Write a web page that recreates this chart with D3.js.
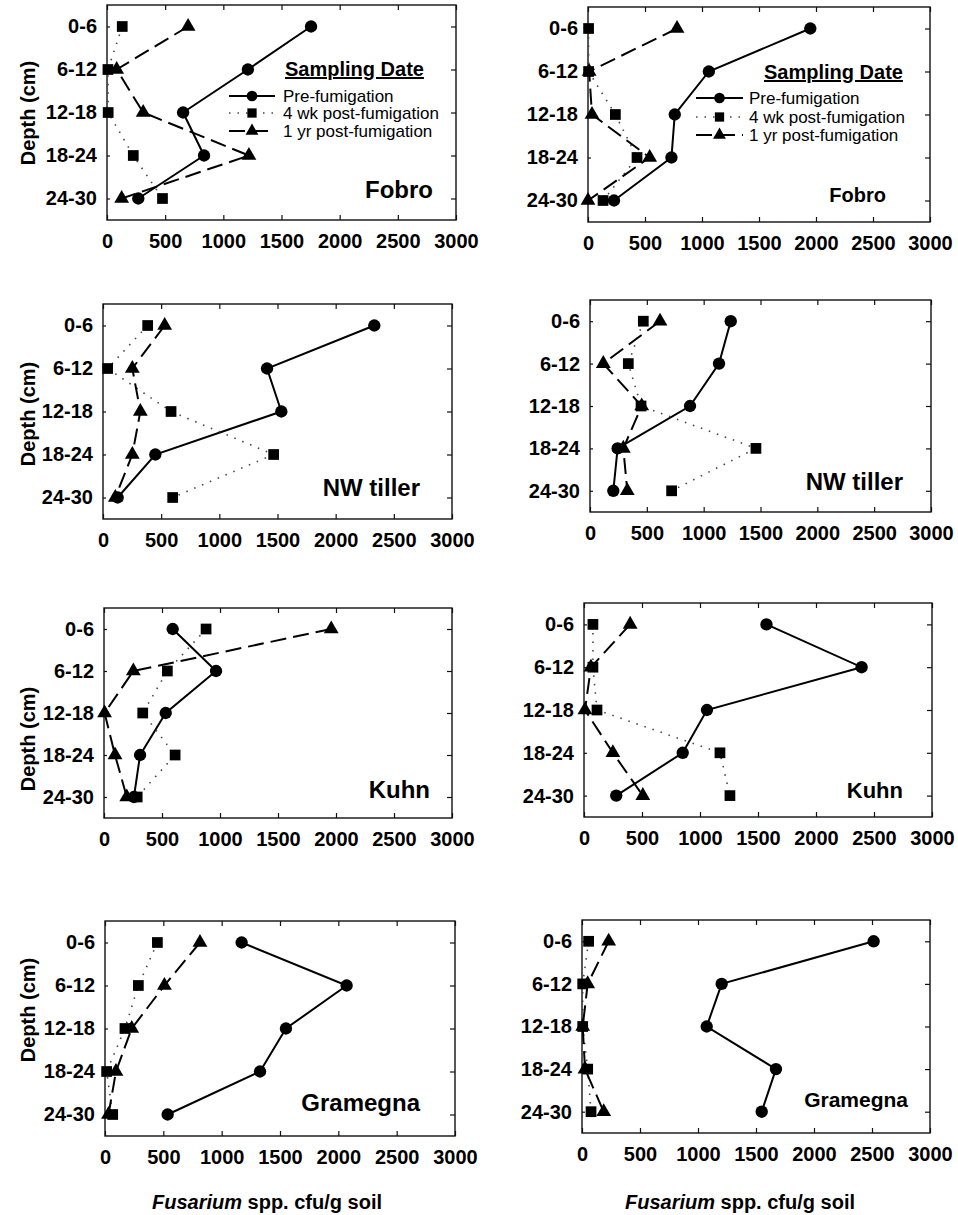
<!DOCTYPE html>
<html>
<head>
<meta charset="utf-8">
<style>
  body { margin: 0; background: #fff; }
  svg { display: block; font-family: "Liberation Sans", Arial, sans-serif; }
  .tick text { font-weight: bold; font-size: 20px; fill: #000; }
  .tick line { stroke: #111; stroke-width: 1.2; }
</style>
</head>
<body>
<div id="chart"></div>
<script src="https://d3js.org/d3.v7.min.js"></script>
<script>
// categories and ticks
const depths = ["0-6", "6-12", "12-18", "18-24", "24-30"];
const xTicks = [0, 500, 1000, 1500, 2000, 2500, 3000];
const seriesNames = ["Pre-fumigation", "4 wk post-fumigation", "1 yr post-fumigation"];
const siteNames = ["Fobro", "Fobro", "NW tiller", "NW tiller", "Kuhn", "Kuhn", "Gramegna", "Gramegna"];

// Fusarium spp. cfu/g soil, one value per depth
const fobroA_pre = [1754, 1211, 654, 834, 269];
const fobroA_4wk = [131, 8, 10, 226, 477];
const fobroA_1yr = [697, 83, 311, 1220, 126];

const fobroB_pre = [1950, 1060, 761, 732, 228];
const fobroB_4wk = [5, 5, 240, 430, 132];
const fobroB_1yr = [781, 10, 35, 541, 0];

const tillerA_pre = [2332, 1410, 1533, 450, 126];
const tillerA_4wk = [384, 40, 585, 1467, 599];
const tillerA_1yr = [530, 252, 321, 252, 106];

const tillerB_pre = [1238, 1135, 880, 243, 205];
const tillerB_4wk = [469, 337, 449, 1460, 718];
const tillerB_1yr = [616, 117, 455, 293, 328];

const kuhnA_pre = [592, 966, 532, 311, 258];
const kuhnA_4wk = [880, 546, 334, 613, 286];
const kuhnA_1yr = [1959, 253, 5, 95, 196];

const kuhnB_pre = [1573, 2393, 1060, 851, 278];
const kuhnB_4wk = [77, 77, 112, 1172, 1258];
const kuhnB_1yr = [398, 60, 8, 249, 507];

const gramA_pre = [1171, 2071, 1551, 1329, 537];
const gramA_4wk = [449, 286, 171, 14, 66];
const gramA_1yr = [814, 509, 229, 94, 30];

const gramB_pre = [2514, 1204, 1075, 1672, 1549];
const gramB_4wk = [57, 6, 6, 49, 78];
const gramB_1yr = [230, 49, 6, 26, 187];

const panelData = [
  [fobroA_pre, fobroA_4wk, fobroA_1yr],
  [fobroB_pre, fobroB_4wk, fobroB_1yr],
  [tillerA_pre, tillerA_4wk, tillerA_1yr],
  [tillerB_pre, tillerB_4wk, tillerB_1yr],
  [kuhnA_pre, kuhnA_4wk, kuhnA_1yr],
  [kuhnB_pre, kuhnB_4wk, kuhnB_1yr],
  [gramA_pre, gramA_4wk, gramA_1yr],
  [gramB_pre, gramB_4wk, gramB_1yr]
];

// plot boxes, in page pixels
const layout = [
  {l: 107, r: 456, t: 5,   b: 220, nameX: 433, nameY: 198, nameSize: 24, depthY: 113},
  {l: 588, r: 930, t: 7,   b: 222, nameX: 886, nameY: 202, nameSize: 20},
  {l: 103, r: 452, t: 304, b: 519, nameX: 420, nameY: 496, nameSize: 24, depthY: 414},
  {l: 590, r: 931, t: 300, b: 512, nameX: 903, nameY: 490, nameSize: 24},
  {l: 104, r: 452, t: 608, b: 818, nameX: 430, nameY: 798, nameSize: 24, depthY: 739},
  {l: 584, r: 932, t: 603, b: 817, nameX: 903, nameY: 798, nameSize: 22},
  {l: 105, r: 455, t: 921, b: 1136, nameX: 420, nameY: 1111, nameSize: 24, depthY: 1010},
  {l: 582, r: 930, t: 920, b: 1133, nameX: 908, nameY: 1107, nameSize: 21}
];

const styles = [
  {symbol: d3.symbolCircle,   size: 120, dash: null,    width: 2,   color: "#000"},
  {symbol: d3.symbolSquare,   size: 115, dash: "1.5,7", width: 1.6, color: "#444"},
  {symbol: d3.symbolTriangle, size: 95,  dash: "16,7",  width: 2,   color: "#000"}
];

const svg = d3.select("#chart").append("svg")
  .attr("width", 958)
  .attr("height", 1215);

function drawPanel(vals, box, i) {
  const x = d3.scaleLinear().domain([0, 3000]).range([box.l, box.r]);
  const y = d3.scalePoint().domain(depths).range([box.t, box.b]).padding(0.5);
  const g = svg.append("g");

  g.append("rect")
    .attr("x", box.l).attr("y", box.t)
    .attr("width", box.r - box.l).attr("height", box.b - box.t)
    .attr("fill", "none").attr("stroke", "#111").attr("stroke-width", 1.4);

  g.append("g").attr("transform", `translate(0,${box.b})`)
    .call(d3.axisBottom(x).tickValues(xTicks).tickFormat(d3.format("d")).tickSize(-5).tickPadding(14))
    .call(a => a.select(".domain").remove());
  g.append("g").attr("transform", `translate(0,${box.t})`)
    .call(d3.axisTop(x).tickValues(xTicks).tickSize(-5).tickFormat(""))
    .call(a => a.select(".domain").remove());
  g.append("g").attr("transform", `translate(${box.l},0)`)
    .call(d3.axisLeft(y).tickSize(-3).tickPadding(10))
    .call(a => a.select(".domain").remove());
  g.append("g").attr("transform", `translate(${box.r},0)`)
    .call(d3.axisRight(y).tickSize(-5).tickFormat(""))
    .call(a => a.select(".domain").remove());

  const line = d3.line().x(d => x(d.v)).y(d => y(d.depth));

  vals.forEach((s, k) => {
    const pts = s.map((v, j) => ({v: v, depth: depths[j]}));
    const st = styles[k];
    g.append("path")
      .datum(pts)
      .attr("d", line)
      .attr("fill", "none")
      .attr("stroke", st.color)
      .attr("stroke-width", st.width)
      .attr("stroke-dasharray", st.dash);
    g.selectAll(null)
      .data(pts)
      .enter().append("path")
        .attr("transform", d => `translate(${x(d.v)},${y(d.depth)})`)
        .attr("d", d3.symbol().type(st.symbol).size(st.size))
        .attr("fill", "#000");
  });

  g.append("text")
    .attr("x", box.nameX).attr("y", box.nameY)
    .attr("text-anchor", "end")
    .attr("font-weight", "bold")
    .attr("font-size", box.nameSize)
    .text(siteNames[i]);

  if (i % 2 === 0) {
    g.append("text")
      .attr("transform", `translate(35,${box.depthY}) rotate(-90)`)
      .attr("text-anchor", "middle")
      .attr("font-weight", "bold")
      .attr("font-size", 20)
      .text("Depth (cm)");
  }
}

panelData.forEach((vals, i) => drawPanel(vals, layout[i], i));

// legends on the two Fobro panels
const legendPos = [
  {titleX: 285, titleY: 76, lineX0: 229, lineX1: 275, textX: 283, rowY: [96, 113, 131]},
  {titleX: 764, titleY: 79, lineX0: 696, lineX1: 743, textX: 749, rowY: [98, 117, 135]}
];

legendPos.forEach(lp => {
  const lg = svg.append("g");
  lg.append("text")
    .attr("x", lp.titleX).attr("y", lp.titleY)
    .attr("font-weight", "bold")
    .attr("font-size", 20)
    .attr("text-decoration", "underline")
    .text("Sampling Date");
  seriesNames.forEach((name, k) => {
    const st = styles[k];
    const yy = lp.rowY[k];
    lg.append("line")
      .attr("x1", lp.lineX0).attr("x2", lp.lineX1)
      .attr("y1", yy).attr("y2", yy)
      .attr("stroke", st.color)
      .attr("stroke-width", st.width)
      .attr("stroke-dasharray", st.dash);
    lg.append("path")
      .attr("transform", `translate(${(lp.lineX0 + lp.lineX1) / 2},${yy})`)
      .attr("d", d3.symbol().type(st.symbol).size(st.size * 0.75))
      .attr("fill", "#000");
    lg.append("text")
      .attr("x", lp.textX).attr("y", yy + 6)
      .attr("font-size", 17)
      .text(name);
  });
});

// x axis titles
[267, 740].forEach(cx => {
  const t = svg.append("text")
    .attr("x", cx).attr("y", 1209)
    .attr("text-anchor", "middle")
    .attr("font-weight", "bold")
    .attr("font-size", 20);
  t.append("tspan").attr("font-style", "italic").text("Fusarium");
  t.append("tspan").text(" spp. cfu/g soil");
});
</script>
</body>
</html>
